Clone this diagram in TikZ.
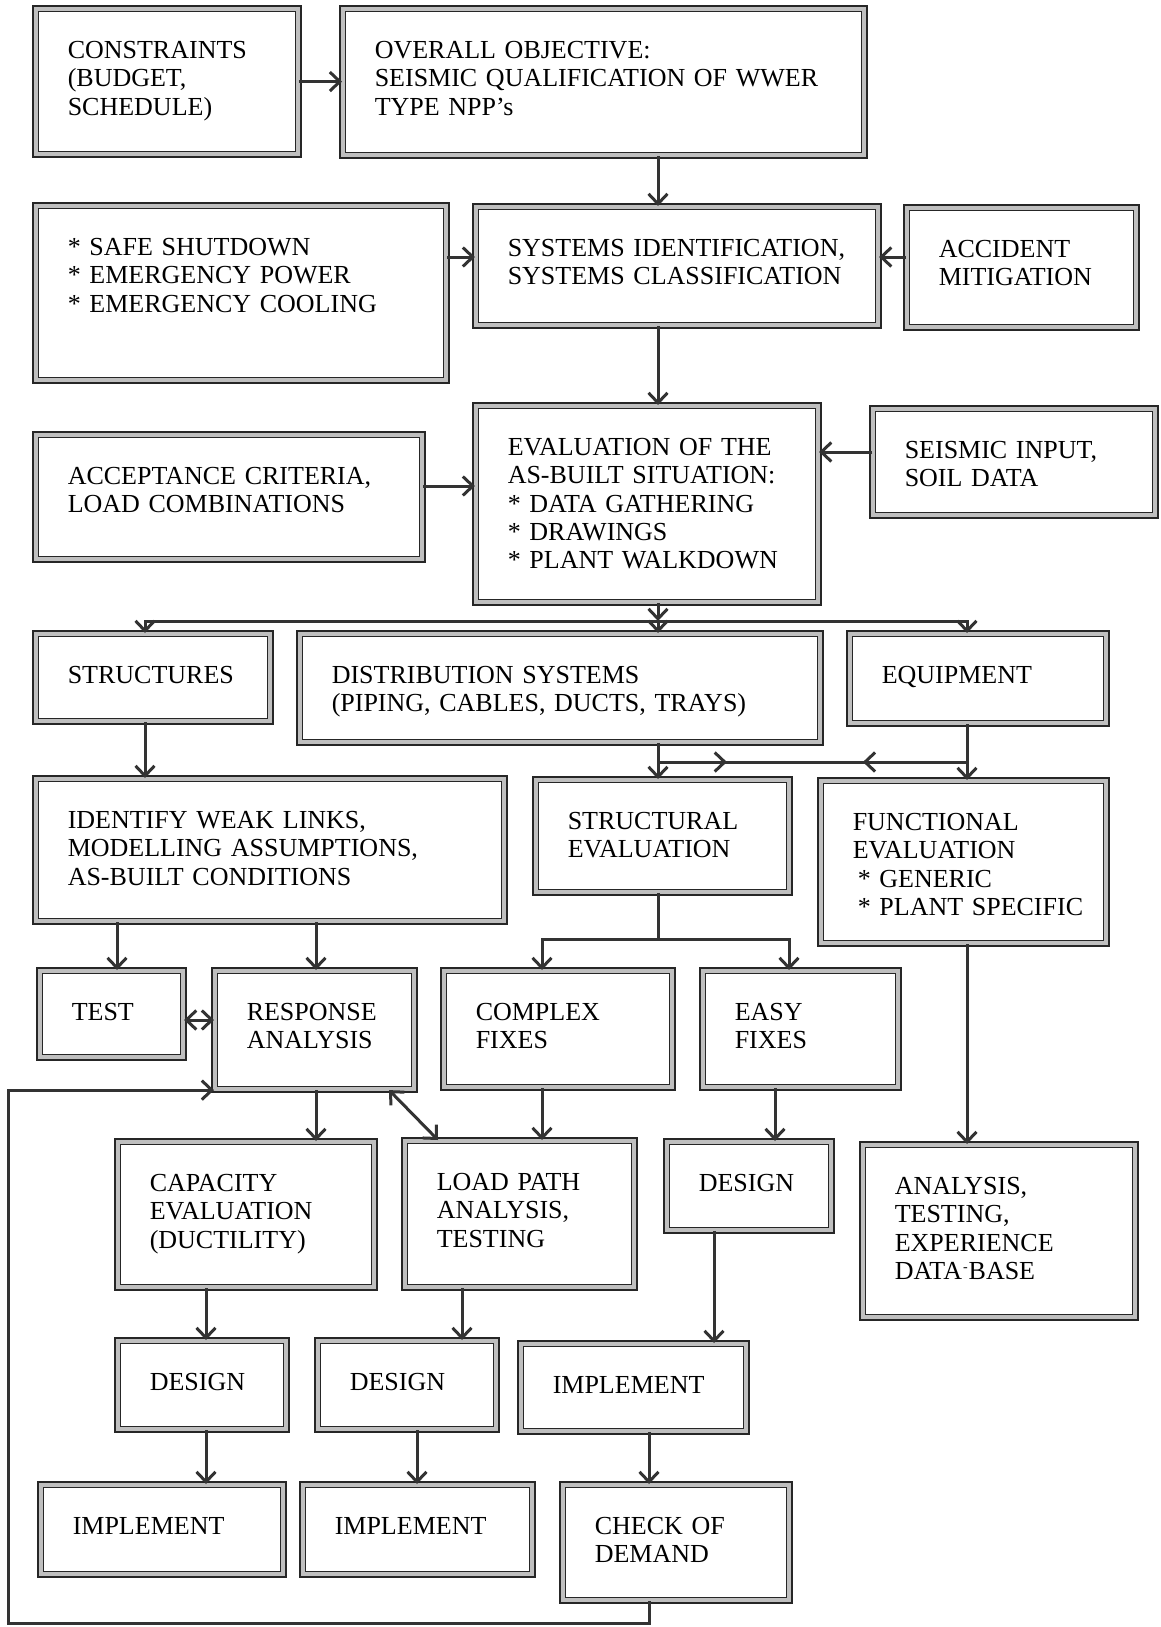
\documentclass[tikz,border=0pt]{standalone}
\usepackage{fontspec}
\setmainfont{Liberation Serif}
\usepackage{tikz}
\usetikzlibrary{arrows.meta,decorations.markings}

\begin{document}
\begin{tikzpicture}[
    x=1pt, y=-1pt,
    >={Straight Barb[length=10pt,width=19pt]},
    font=\fontsize{26}{28.3}\selectfont,
    blk/.style={draw=black!85, double=gray!50, double distance=4.2pt,
                line width=1.5pt, fill=white, align=left, anchor=north west,
                inner xsep=32pt, inner ysep=0pt, text height=49.8pt},
    stage/.code 2 args={\pgfmathsetmacro\bxw{#1-67.4}\pgfmathsetmacro\bxd{#2-53.2}%
                \edef\bxset{\noexpand\pgfkeysalso{blk, text width=\bxw pt, text depth=\bxd pt}}\bxset},
    wire/.style={draw=black!80, line width=3pt},
    flow/.style={wire, ->},
    both/.style={wire, <->}
  ]
  \useasboundingbox (0,0) rectangle (1160,1627);

  % --- objective and inputs ---
  \node[stage={266}{149}] (cons)   at (35,8)    {CONSTRAINTS\\(BUDGET,\\SCHEDULE)};
  \node[stage={525}{150}] (over)   at (342,8)   {OVERALL OBJECTIVE:\\SEISMIC QUALIFICATION OF WWER\\TYPE NPP’s};
  \node[stage={414}{178}] (safe)   at (35,205)  {* SAFE SHUTDOWN\\{}* EMERGENCY POWER\\{}* EMERGENCY COOLING};
  \node[stage={406}{122}] (sysid)  at (475,206) {SYSTEMS IDENTIFICATION,\\SYSTEMS CLASSIFICATION};
  \node[stage={233}{123}] (acc)    at (906,207) {ACCIDENT\\MITIGATION};
  \node[stage={346}{200}] (eval)   at (475,405) {EVALUATION OF THE\\AS-BUILT SITUATION:\\{}* DATA GATHERING\\{}* DRAWINGS\\{}* PLANT WALKDOWN};
  \node[stage={390}{128}] (accept) at (35,434)  {ACCEPTANCE CRITERIA,\\LOAD COMBINATIONS};
  \node[stage={286}{110}] (seis)   at (872,408) {SEISMIC INPUT,\\SOIL DATA};

  % --- component classes ---
  \node[stage={238}{91}]  (struct) at (35,633)  {STRUCTURES};
  \node[stage={524}{112}] (dist)   at (299,633) {DISTRIBUTION SYSTEMS\\(PIPING, CABLES, DUCTS, TRAYS)};
  \node[stage={260}{93}]  (equip)  at (849,633) {EQUIPMENT};
  \node[stage={472}{146}] (ident)  at (35,778)  {IDENTIFY WEAK LINKS,\\MODELLING ASSUMPTIONS,\\AS-BUILT CONDITIONS};
  \node[stage={257}{116}] (sev)    at (535,779) {STRUCTURAL\\EVALUATION};
  \node[stage={289}{166}] (func)   at (820,780) {FUNCTIONAL\\EVALUATION\\\mbox{\hspace*{5pt}* GENERIC}\\\mbox{\hspace*{5pt}* PLANT SPECIFIC}};

  % --- analysis and fixes ---
  \node[stage={147}{90}]  (test)   at (39,970)  {TEST};
  \node[stage={203}{122}] (resp)   at (214,970) {RESPONSE\\ANALYSIS};
  \node[stage={232}{120}] (cplx)   at (443,970) {COMPLEX\\FIXES};
  \node[stage={199}{120}] (easy)   at (702,970) {EASY\\FIXES};
  \node[stage={260}{149}] (cap)    at (117,1141) {CAPACITY\\EVALUATION\\(DUCTILITY)};
  \node[stage={233}{150}] (load)   at (404,1140) {LOAD PATH\\ANALYSIS,\\TESTING};
  \node[stage={168}{92}]  (des3)   at (666,1141) {DESIGN};
  \node[stage={276}{176}] (anal)   at (862,1144) {ANALYSIS,\\TESTING,\\EXPERIENCE\\DATA\kern1pt\raisebox{.7ex}{\fontsize{14}{14}\selectfont -}\kern1pt BASE};
  \node[stage={172}{92}]  (des1)   at (117,1340) {DESIGN};
  \node[stage={182}{92}]  (des2)   at (317,1340) {DESIGN};
  \node[stage={229}{91}]  (imp3)   at (520,1343) {IMPLEMENT};
  \node[stage={246}{93}]  (imp1)   at (40,1484)  {IMPLEMENT};
  \node[stage={233}{93}]  (imp2)   at (302,1484) {IMPLEMENT};
  \node[stage={230}{119}] (check)  at (562,1484) {CHECK OF\\DEMAND};

  % connector rows and columns
  \coordinate (spine)  at (658,0);
  \coordinate (bus)    at (658,621);
  \coordinate (bus2)   at (658,762);
  \coordinate (bus2e)  at (967,762);
  \coordinate (fixbus) at (658,939);
  \coordinate (loop)   at (8,1623);
  \coordinate (ysys)   at (0,257);
  \coordinate (yseis)  at (0,452);
  \coordinate (yacc)   at (0,486);
  \coordinate (ytest)  at (0,1020);
  \coordinate (cSt) at (145,0);
  \coordinate (cTe) at (117,0);
  \coordinate (cRe) at (316,0);
  \coordinate (cCa) at (206,0);
  \coordinate (cD2) at (417,0);
  \coordinate (cLp) at (462,0);
  \coordinate (cCx) at (542,0);
  \coordinate (cIm) at (649,0);
  \coordinate (cD3) at (714,0);
  \coordinate (cEd) at (775,0);
  \coordinate (cEz) at (789,0);

  % top part
  \draw[flow] (cons.east) -- (cons.east -| over.west);
  \draw[flow] (over.south -| spine) -- (sysid.north -| spine);
  \draw[flow] (safe.east |- ysys) -- (sysid.west |- ysys);
  \draw[flow] (acc.west |- ysys) -- (sysid.east |- ysys);
  \draw[flow] (sysid.south -| spine) -- (eval.north -| spine);
  \draw[flow] (accept.east |- yacc) -- (eval.west |- yacc);
  \draw[flow] (seis.west |- yseis) -- (eval.east |- yseis);

  % split into component classes
  \draw[flow] (eval.south -| spine) -- (bus);
  \draw[flow] (bus) -| (struct.north -| cSt);
  \draw[flow] (bus) -- (dist.north -| bus);
  \draw[flow] (bus) -| (equip.north -| bus2e);

  \draw[flow] (struct.south -| cSt) -- (ident.north -| cSt);
  \draw[wire] (dist.south -| bus2) -- (bus2);
  \draw[flow] (bus2) -- (sev.north -| bus2);
  \draw[flow] (equip.south -| bus2e) -- (func.north -| bus2e);
  \draw[wire, postaction={decorate},
        decoration={markings, mark=at position 0.223 with {\arrow{>}},
                    mark=at position 0.663 with {\arrowreversed{>}}}] (bus2) -- (bus2e);

  % structures branch
  \draw[flow] (ident.south -| cTe) -- (test.north -| cTe);
  \draw[flow] (ident.south -| cRe) -- (resp.north -| cRe);
  \draw[both] (test.east |- ytest) -- (resp.west |- ytest);
  \draw[flow] (resp.south -| cRe) -- (cap.north -| cRe);
  \draw[both] ([xshift=-26pt]resp.south east) -- ([xshift=34pt]load.north west);
  \draw[flow] (cap.south -| cCa) -- (des1.north -| cCa);
  \draw[flow] (des1.south -| cCa) -- (imp1.north -| cCa);

  % fixes
  \draw[wire] (sev.south -| fixbus) -- (fixbus);
  \draw[flow] (fixbus) -| (cplx.north -| cCx);
  \draw[flow] (fixbus) -| (easy.north -| cEz);
  \draw[flow] (cplx.south -| cCx) -- (load.north -| cCx);
  \draw[flow] (load.south -| cLp) -- (des2.north -| cLp);
  \draw[flow] (des2.south -| cD2) -- (imp2.north -| cD2);
  \draw[flow] (easy.south -| cEd) -- (des3.north -| cEd);
  \draw[flow] (des3.south -| cD3) -- (imp3.north -| cD3);
  \draw[flow] (imp3.south -| cIm) -- (check.north -| cIm);
  \draw[flow] (func.south -| bus2e) -- (anal.north -| bus2e);

  % feedback to response analysis
  \draw[flow] (check.south -| cIm) |- (loop) |- (resp.south west);

\end{tikzpicture}
\end{document}
